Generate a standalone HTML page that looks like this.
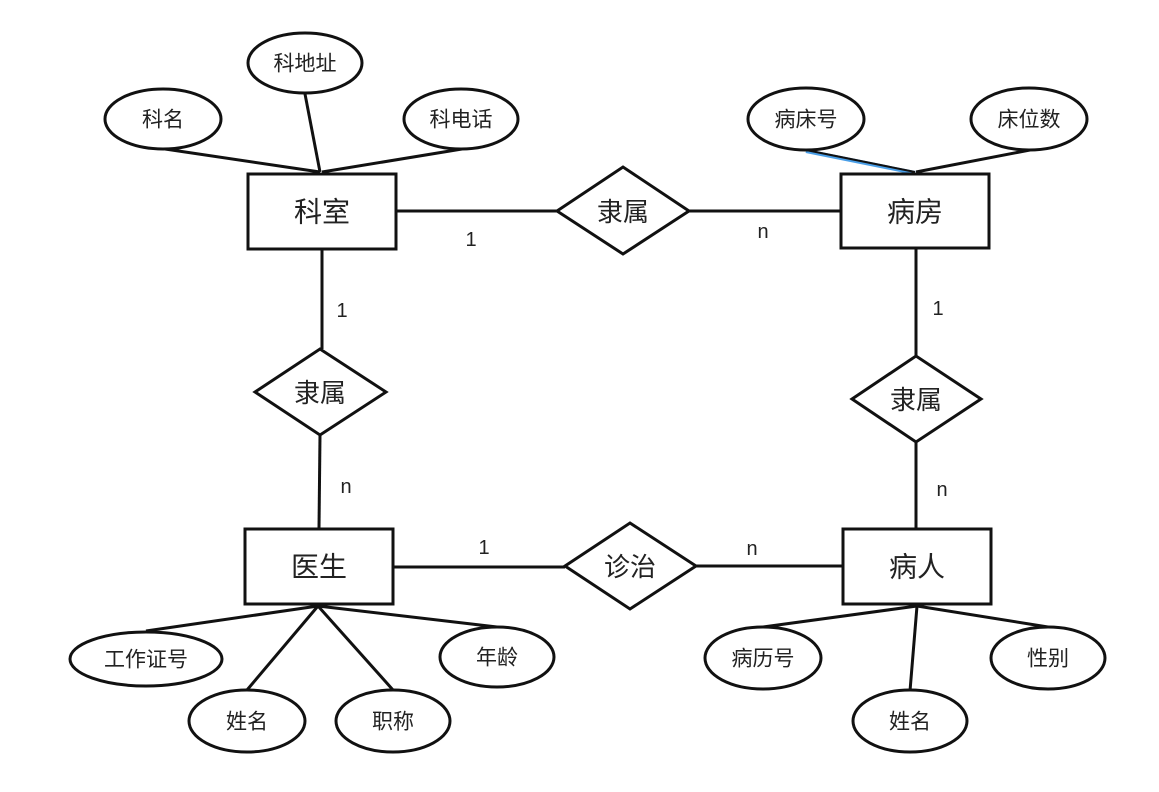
<!DOCTYPE html>
<html><head><meta charset="utf-8"><style>
html,body{margin:0;padding:0;background:#fff;width:1159px;height:792px;overflow:hidden}
text{font-family:"Liberation Sans","Noto Sans CJK SC",sans-serif;fill:#222;text-anchor:middle;dominant-baseline:central}
</style></head><body>
<svg width="1159" height="792" viewBox="0 0 1159 792" xmlns="http://www.w3.org/2000/svg">
<g stroke="#111" stroke-width="3" fill="none">
<!-- connectors -->
<line x1="165" y1="149" x2="320" y2="172"/>
<line x1="305" y1="94" x2="320" y2="172"/>
<line x1="462" y1="149" x2="322" y2="172"/>
<line x1="396" y1="211" x2="557" y2="211"/>
<line x1="689" y1="211" x2="841" y2="211"/>
<line x1="1030" y1="150" x2="916" y2="172"/>
<line x1="322" y1="249" x2="322" y2="349"/>
<line x1="320" y1="435" x2="319" y2="528"/>
<line x1="916" y1="248" x2="916" y2="356"/>
<line x1="916" y1="442" x2="916" y2="528"/>
<line x1="393" y1="567" x2="565" y2="567"/>
<line x1="696" y1="566" x2="843" y2="566"/>
<line x1="318" y1="606" x2="146" y2="631"/>
<line x1="318" y1="606" x2="247" y2="690"/>
<line x1="318" y1="606" x2="393" y2="690"/>
<line x1="318" y1="606" x2="497" y2="627"/>
<line x1="917" y1="606" x2="763" y2="627"/>
<line x1="917" y1="606" x2="910" y2="691"/>
<line x1="917" y1="606" x2="1048" y2="627"/>
</g>
<line x1="806" y1="151" x2="915" y2="173" stroke="#4a9fe8" stroke-width="4"/>
<line x1="806" y1="150" x2="915" y2="172" stroke="#111" stroke-width="2"/>
<g stroke="#111" stroke-width="3" fill="#fff">
<!-- entities -->
<rect x="248" y="174" width="148" height="75"/>
<rect x="841" y="174" width="148" height="74"/>
<rect x="245" y="529" width="148" height="75"/>
<rect x="843" y="529" width="148" height="75"/>
<!-- relationships -->
<polygon points="557,211 623,167 689,211 623,254"/>
<polygon points="255,392 320,349 386,392 320,435"/>
<polygon points="852,399 916,356 981,399 916,442"/>
<polygon points="565,566 630,523 696,566 630,609"/>
<!-- attributes -->
<ellipse cx="305" cy="63" rx="57" ry="30"/>
<ellipse cx="163" cy="119" rx="58" ry="30"/>
<ellipse cx="461" cy="119" rx="57" ry="30"/>
<ellipse cx="806" cy="119" rx="58" ry="31"/>
<ellipse cx="1029" cy="119" rx="58" ry="31"/>
<ellipse cx="146" cy="659" rx="76" ry="27"/>
<ellipse cx="247" cy="721" rx="58" ry="31"/>
<ellipse cx="393" cy="721" rx="57" ry="31"/>
<ellipse cx="497" cy="657" rx="57" ry="30"/>
<ellipse cx="763" cy="658" rx="58" ry="31"/>
<ellipse cx="910" cy="721" rx="57" ry="31"/>
<ellipse cx="1048" cy="658" rx="57" ry="31"/>
</g>
<g font-size="28">
<text x="322" y="212">科室</text>
<text x="915" y="212">病房</text>
<text x="319" y="567">医生</text>
<text x="917" y="567">病人</text>
</g>
<g font-size="26">
<text x="623" y="212">隶属</text>
<text x="320" y="393">隶属</text>
<text x="916" y="400">隶属</text>
<text x="630" y="567">诊治</text>
</g>
<g font-size="21">
<text x="305" y="64">科地址</text>
<text x="163" y="120">科名</text>
<text x="461" y="120">科电话</text>
<text x="806" y="120">病床号</text>
<text x="1029" y="120">床位数</text>
<text x="146" y="660">工作证号</text>
<text x="247" y="722">姓名</text>
<text x="393" y="722">职称</text>
<text x="497" y="658">年龄</text>
<text x="763" y="659">病历号</text>
<text x="910" y="722">姓名</text>
<text x="1048" y="659">性别</text>
</g>
<g font-size="20">
<text x="471" y="240">1</text>
<text x="763" y="232">n</text>
<text x="342" y="311">1</text>
<text x="346" y="487">n</text>
<text x="938" y="309">1</text>
<text x="942" y="490">n</text>
<text x="484" y="548">1</text>
<text x="752" y="549">n</text>
</g>
</svg>
</body></html>
